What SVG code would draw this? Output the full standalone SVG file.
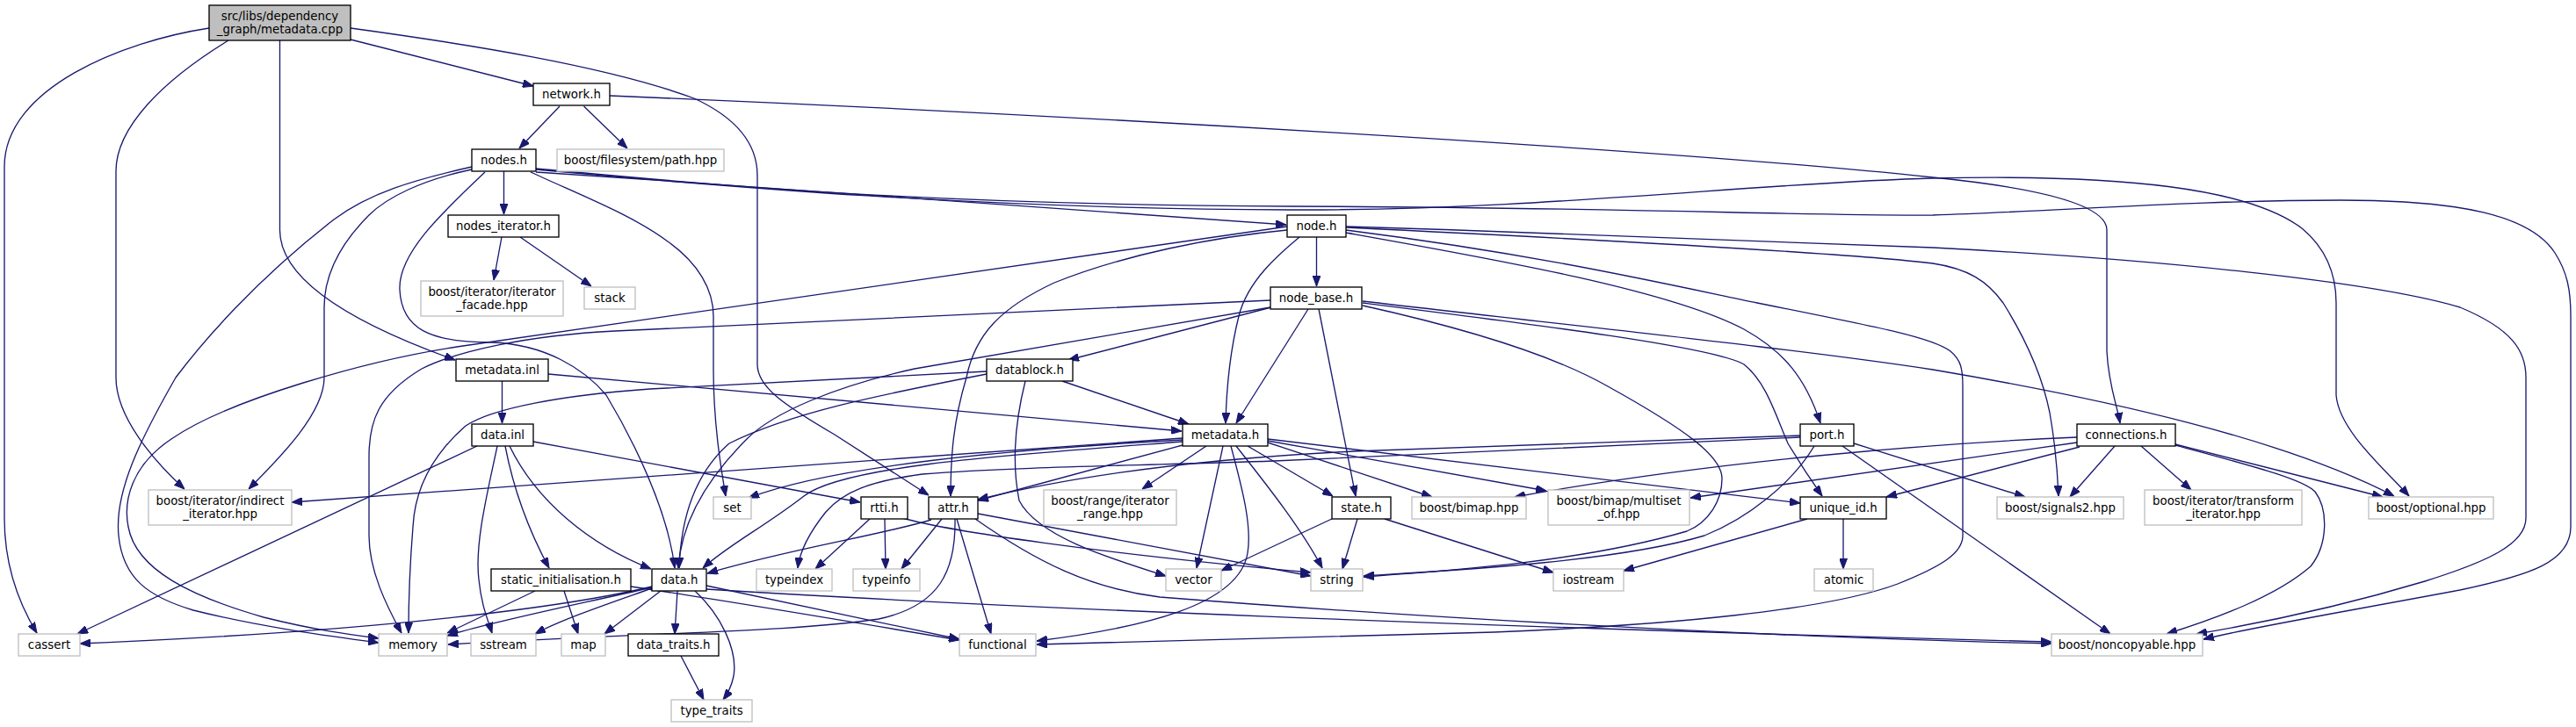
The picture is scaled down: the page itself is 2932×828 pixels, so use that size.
<svg xmlns="http://www.w3.org/2000/svg" width="2932" height="828" viewBox="0 0 2932 828">
<style>
.e{fill:none;stroke:#191970;stroke-width:1.33;marker-end:url(#arr)}
.d rect{fill:#ffffff;stroke:#000000;stroke-width:1.33}
.u rect{fill:#ffffff;stroke:#bfbfbf;stroke-width:1.33}
.r rect{fill:#bfbfbf;stroke:#000000;stroke-width:1.33}
text{font-family:'DejaVu Sans','Liberation Sans',sans-serif;font-size:13.33px;text-anchor:middle;fill:#000000}
</style>
<defs>
<marker id="arr" viewBox="0 0 12 9" refX="12" refY="4.5" markerWidth="12" markerHeight="9" markerUnits="userSpaceOnUse" orient="auto">
<path d="M0,0 L12,4.5 L0,9 Z" fill="#191970" stroke="#191970" stroke-width="1"/>
</marker>
</defs>
<rect x="0" y="0" width="2932" height="828" fill="#ffffff"/>
<g id="edges">
<path class="e" d="M238,32 C140,47 5,100 5,190 L5,590 C5,640 20,685 42,721"/>
<path class="e" d="M260,46 C185,92 132,145 132,195 L132,430 C132,475 175,525 210,557"/>
<path class="e" d="M318.5,46 L318.5,262 C318.5,325 420,375 518,410"/>
<path class="e" d="M399,45 L607,98"/>
<path class="e" d="M399,32 C530,50 690,75 790,112 C840,135 862,165 862,200 L862,415 C862,440 890,460 950,495 L1057,564"/>
<path class="e" d="M637,121 L591,169"/>
<path class="e" d="M664.5,121 L714,169"/>
<path class="e" d="M694,109 C1200,130 1900,170 2200,202 C2330,215 2398,235 2398,262 L2398,400 C2400,440 2410,462 2413,482"/>
<path class="e" d="M573.5,195 L573.5,244"/>
<path class="e" d="M610,196 C900,215 1200,238 1464,256"/>
<path class="e" d="M610,193 C800,210 1100,238 1470,239 C1750,240 2000,208 2200,203 C2420,198 2560,215 2620,260 C2650,285 2659,315 2659,345 L2659,450 C2662,490 2715,535 2742,565"/>
<path class="e" d="M610,192 C760,205 1000,233 1470,235 C1850,236 2050,246 2200,245 C2350,240 2500,228 2664,228 C2800,228 2880,245 2908,288 C2922,310 2926,330 2926,360 L2926,600 C2926,640 2880,655 2800,672 C2650,700 2560,715 2508,728"/>
<path class="e" d="M604,196 C660,222 720,245 760,275 C795,300 812,330 812,360 L812,420 C812,480 820,530 826,565"/>
<path class="e" d="M552,196 C500,245 453,290 455,330 C457,375 490,390 560,390 C620,392 665,420 690,450 C720,500 760,580 768,647"/>
<path class="e" d="M537,190 C470,205 420,220 380,250 C290,320 230,390 200,430 C160,500 130,560 135,610 C140,660 170,680 220,695 C300,715 380,725 431,732"/>
<path class="e" d="M537,193 C480,205 440,225 420,245 C380,285 369,320 369,350 L369,430 C369,470 320,520 283,557"/>
<path class="e" d="M571,270 L562,319"/>
<path class="e" d="M592,270 L673,326"/>
<path class="e" d="M1498.5,270 L1498.5,326"/>
<path class="e" d="M1479,270 C1455,290 1420,320 1410,360 C1400,400 1396,440 1395,482"/>
<path class="e" d="M1465,262 C1380,270 1280,290 1200,322 C1140,350 1110,380 1100,430 C1085,480 1082,520 1082,565"/>
<path class="e" d="M1465,258 L520,395 C420,410 260,455 195,500 C150,530 140,570 146,600 C155,650 220,680 300,703 C360,718 400,723 431,727"/>
<path class="e" d="M1532,265 C1700,295 1900,330 1985,375 C2030,400 2055,430 2072,482"/>
<path class="e" d="M1532,259 C1800,272 2100,288 2200,300 C2240,306 2262,320 2280,345 C2305,385 2325,430 2333,470 C2340,510 2342,540 2343,565"/>
<path class="e" d="M1532,258 C1800,266 2100,277 2200,282 C2450,295 2700,320 2800,350 C2860,375 2875,400 2875,430 L2875,590 C2875,620 2830,640 2760,662 C2650,695 2560,712 2500,722"/>
<path class="e" d="M1532,262 C1750,290 1880,320 2000,345 C2150,375 2200,385 2220,400 C2232,410 2234,420 2234,440 L2234,610 C2234,630 2210,645 2160,665 C2080,695 1900,712 1700,720 L1180,734"/>
<path class="e" d="M1447,350 L1216,410"/>
<path class="e" d="M1446,342 L700,377 C600,382 520,400 480,420 C430,450 420,480 420,520 L420,610 C420,650 440,690 457,721"/>
<path class="e" d="M1446,350 L1041,420 C950,440 880,470 850,500 C800,550 775,600 772,647"/>
<path class="e" d="M1489,352 L1407,482"/>
<path class="e" d="M1501,352 L1543,565"/>
<path class="e" d="M1551,348 C1650,370 1760,400 1830,440 C1920,490 1960,520 1960,545 C1960,570 1945,595 1920,605 C1800,640 1650,650 1552,657"/>
<path class="e" d="M1551,345 C1750,370 1950,395 1985,415 C2010,435 2020,470 2035,505 C2050,530 2062,548 2074,565"/>
<path class="e" d="M1551,343 C1800,372 2050,398 2200,421 C2400,455 2600,500 2725,565"/>
<path class="e" d="M1123,423 L740,443 C640,450 560,465 530,485 C490,520 472,560 470,600 C466,650 465,690 465,721"/>
<path class="e" d="M1123,426 C1000,450 900,470 830,505 C790,540 775,590 773,647"/>
<path class="e" d="M1209,434 L1353,483"/>
<path class="e" d="M1167,434 C1158,470 1150,520 1160,570 C1180,610 1260,635 1327,656"/>
<path class="e" d="M571.5,434 L571.5,482"/>
<path class="e" d="M624,426 L1345,491"/>
<path class="e" d="M543,508 L88,722"/>
<path class="e" d="M566,508 C555,560 540,620 545,660 C548,690 555,705 560,721"/>
<path class="e" d="M575,508 C585,560 605,610 625,647"/>
<path class="e" d="M580,508 C610,570 670,620 741,648"/>
<path class="e" d="M607,503 L979,572"/>
<path class="e" d="M1346,499 L332,572"/>
<path class="e" d="M1346,501 C1150,512 950,530 852,567"/>
<path class="e" d="M1346,503 C1150,518 960,530 915,565 C870,600 830,620 800,647"/>
<path class="e" d="M1346,507 L1113,570"/>
<path class="e" d="M1373,508 L1300,557"/>
<path class="e" d="M1392,508 L1362,647"/>
<path class="e" d="M1401,508 C1415,560 1425,600 1420,630 C1410,690 1300,715 1180,730"/>
<path class="e" d="M1407,508 C1440,550 1480,600 1505,647"/>
<path class="e" d="M1420,508 L1517,565"/>
<path class="e" d="M1443,504 L1630,566"/>
<path class="e" d="M1443,502 L1760,559"/>
<path class="e" d="M1443,500 L2049,573"/>
<path class="e" d="M2049,496 L1540,514 C1380,522 1230,540 1113,569"/>
<path class="e" d="M2049,498 L1450,525 C1300,530 1150,532 1050,540 C990,548 960,560 940,583 C920,608 910,630 908,647"/>
<path class="e" d="M2065,508 C2040,550 1990,590 1940,610 C1840,640 1650,650 1552,656"/>
<path class="e" d="M2110,505 L2305,566"/>
<path class="e" d="M2097,508 L2402,722"/>
<path class="e" d="M2364,498 C2200,505 1950,525 1724,566"/>
<path class="e" d="M2364,504 L1924,567"/>
<path class="e" d="M2367,509 L2147,566"/>
<path class="e" d="M2407,508 L2356,566"/>
<path class="e" d="M2437,508 L2494,558"/>
<path class="e" d="M2476,507 C2560,530 2620,545 2635,560 C2650,580 2650,620 2630,645 C2590,680 2520,705 2466,722"/>
<path class="e" d="M2476,506 L2712,566"/>
<path class="e" d="M1060,592 C1000,610 900,625 805,653"/>
<path class="e" d="M1072,591 L1026,648"/>
<path class="e" d="M1087,591 C1088,650 1070,690 1000,705 C900,720 750,720 510,734"/>
<path class="e" d="M1089,591 L1128,722"/>
<path class="e" d="M1113,585 L1492,656"/>
<path class="e" d="M1110,591 C1180,640 1240,670 1320,680 C1700,710 2100,728 2335,733"/>
<path class="e" d="M990,591 L928,648"/>
<path class="e" d="M1007,591 L1008,648"/>
<path class="e" d="M1027,590 C1080,605 1250,630 1492,652"/>
<path class="e" d="M1518,590 L1390,650"/>
<path class="e" d="M1545,591 L1528,648"/>
<path class="e" d="M1576,591 L1768,652"/>
<path class="e" d="M2057,591 L1848,650"/>
<path class="e" d="M2098,591 L2098,648"/>
<path class="e" d="M742,668 C650,690 450,718 91,733"/>
<path class="e" d="M742,669 C650,690 560,708 509,724"/>
<path class="e" d="M742,670 C700,685 640,705 609,722"/>
<path class="e" d="M752,673 L688,722"/>
<path class="e" d="M771,673 L768,722"/>
<path class="e" d="M791,673 C820,700 840,740 835,770 C832,785 826,793 823,797"/>
<path class="e" d="M804,667 L1092,728"/>
<path class="e" d="M804,671 C1100,690 1700,715 2335,731"/>
<path class="e" d="M775,747 L801,797"/>
<path class="e" d="M609,673 L509,721"/>
<path class="e" d="M642,673 L658,722"/>
<path class="e" d="M718,668 C800,680 950,705 1092,729"/>
</g>
<g id="n_cpp" class="r"><rect x="238" y="6" width="161" height="40"/><text x="318.5" y="22.5">src/libs/dependency</text><text x="318.5" y="37.5">_graph/metadata.cpp</text></g>
<g id="n_network" class="d"><rect x="607" y="95" width="87" height="25"/><text x="650.5" y="112">network.h</text></g>
<g id="n_nodes" class="d"><rect x="537" y="170" width="73" height="25"/><text x="573.5" y="187">nodes.h</text></g>
<g id="n_fspath" class="u"><rect x="634" y="170" width="190" height="25"/><text x="729" y="187">boost/filesystem/path.hpp</text></g>
<g id="n_nodes_it" class="d"><rect x="510" y="245" width="126" height="25"/><text x="573" y="262">nodes_iterator.h</text></g>
<g id="n_node" class="d"><rect x="1465" y="245" width="67" height="25"/><text x="1498.5" y="262">node.h</text></g>
<g id="n_itfacade" class="u"><rect x="479" y="320" width="162" height="40"/><text x="560" y="336.5">boost/iterator/iterator</text><text x="560" y="351.5">_facade.hpp</text></g>
<g id="n_stack" class="u"><rect x="665" y="327" width="58" height="25"/><text x="694" y="344">stack</text></g>
<g id="n_node_base" class="d"><rect x="1446" y="327" width="104" height="25"/><text x="1498" y="344">node_base.h</text></g>
<g id="n_mdinl" class="d"><rect x="519" y="409" width="105" height="25"/><text x="571.5" y="426">metadata.inl</text></g>
<g id="n_datablock" class="d"><rect x="1123" y="409" width="98" height="25"/><text x="1172" y="426">datablock.h</text></g>
<g id="n_mdh" class="d"><rect x="1346" y="483" width="97" height="25"/><text x="1394.5" y="500">metadata.h</text></g>
<g id="n_datainl" class="d"><rect x="537" y="483" width="70" height="25"/><text x="572" y="500">data.inl</text></g>
<g id="n_port" class="d"><rect x="2049" y="483" width="61" height="25"/><text x="2079.5" y="500">port.h</text></g>
<g id="n_conn" class="d"><rect x="2364" y="483" width="112" height="25"/><text x="2420" y="500">connections.h</text></g>
<g id="n_indirect" class="u"><rect x="169" y="558" width="163" height="40"/><text x="250.5" y="574.5">boost/iterator/indirect</text><text x="250.5" y="589.5">_iterator.hpp</text></g>
<g id="n_set" class="u"><rect x="812" y="566" width="43" height="25"/><text x="833.5" y="583">set</text></g>
<g id="n_rtti" class="d"><rect x="980" y="566" width="53" height="25"/><text x="1006.5" y="583">rtti.h</text></g>
<g id="n_attr" class="d"><rect x="1057" y="566" width="56" height="25"/><text x="1085" y="583">attr.h</text></g>
<g id="n_range" class="u"><rect x="1188" y="558" width="151" height="40"/><text x="1263.5" y="574.5">boost/range/iterator</text><text x="1263.5" y="589.5">_range.hpp</text></g>
<g id="n_state" class="d"><rect x="1516" y="566" width="67" height="25"/><text x="1549.5" y="583">state.h</text></g>
<g id="n_bimap" class="u"><rect x="1607" y="566" width="130" height="25"/><text x="1672" y="583">boost/bimap.hpp</text></g>
<g id="n_multiset" class="u"><rect x="1762" y="558" width="161" height="40"/><text x="1842.5" y="574.5">boost/bimap/multiset</text><text x="1842.5" y="589.5">_of.hpp</text></g>
<g id="n_uid" class="d"><rect x="2049" y="566" width="98" height="25"/><text x="2098" y="583">unique_id.h</text></g>
<g id="n_signals2" class="u"><rect x="2273" y="566" width="144" height="25"/><text x="2345" y="583">boost/signals2.hpp</text></g>
<g id="n_transform" class="u"><rect x="2441" y="558" width="179" height="40"/><text x="2530.5" y="574.5">boost/iterator/transform</text><text x="2530.5" y="589.5">_iterator.hpp</text></g>
<g id="n_optional" class="u"><rect x="2696" y="566" width="142" height="25"/><text x="2767" y="583">boost/optional.hpp</text></g>
<g id="n_staticinit" class="d"><rect x="559" y="648" width="159" height="25"/><text x="638.5" y="665">static_initialisation.h</text></g>
<g id="n_datah" class="d"><rect x="742" y="648" width="62" height="25"/><text x="773" y="665">data.h</text></g>
<g id="n_typeindex" class="u"><rect x="861" y="648" width="86" height="25"/><text x="904" y="665">typeindex</text></g>
<g id="n_typeinfo" class="u"><rect x="971" y="648" width="76" height="25"/><text x="1009" y="665">typeinfo</text></g>
<g id="n_vector" class="u"><rect x="1327" y="648" width="63" height="25"/><text x="1358.5" y="665">vector</text></g>
<g id="n_string" class="u"><rect x="1492" y="648" width="59" height="25"/><text x="1521.5" y="665">string</text></g>
<g id="n_iostream" class="u"><rect x="1768" y="648" width="80" height="25"/><text x="1808" y="665">iostream</text></g>
<g id="n_atomic" class="u"><rect x="2065" y="648" width="67" height="25"/><text x="2098.5" y="665">atomic</text></g>
<g id="n_cassert" class="u"><rect x="21" y="722" width="70" height="25"/><text x="56" y="739">cassert</text></g>
<g id="n_memory" class="u"><rect x="431" y="722" width="78" height="25"/><text x="470" y="739">memory</text></g>
<g id="n_sstream" class="u"><rect x="536" y="722" width="74" height="25"/><text x="573" y="739">sstream</text></g>
<g id="n_map" class="u"><rect x="639" y="722" width="50" height="25"/><text x="664" y="739">map</text></g>
<g id="n_datatraits" class="d"><rect x="715" y="722" width="103" height="25"/><text x="766.5" y="739">data_traits.h</text></g>
<g id="n_functional" class="u"><rect x="1092" y="722" width="87" height="25"/><text x="1135.5" y="739">functional</text></g>
<g id="n_noncopyable" class="u"><rect x="2335" y="722" width="172" height="25"/><text x="2421" y="739">boost/noncopyable.hpp</text></g>
<g id="n_typetraits" class="u"><rect x="764" y="797" width="92" height="25"/><text x="810" y="814">type_traits</text></g>
</svg>
